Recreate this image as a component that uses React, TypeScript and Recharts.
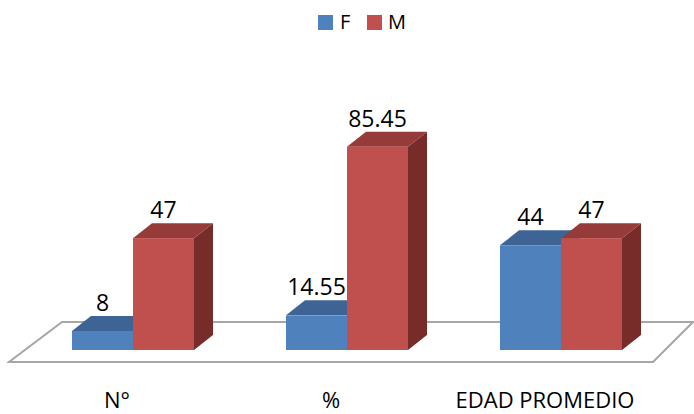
import React from 'react';
import { BarChart, Bar, XAxis, YAxis, Legend, LabelList, ReferenceArea } from 'recharts';

const categories = ['N°', '%', 'EDAD PROMEDIO'];
const femenino = [8, 14.55, 44];
const masculino = [47, 85.45, 47];

const data = categories.map((name, i) => ({ name, F: femenino[i], M: masculino[i] }));

const FONT = '"Open Sans", "Liberation Sans", sans-serif';
const DX = 19; // depth of the 3d bars
const DY = -15;

const colors = {
  F: { front: '#4F81BD', top: '#3D6495', side: '#385D8A' },
  M: { front: '#C0504D', top: '#953B39', side: '#772C2A' },
};

// draws one 3d column: front, top and right side
const make3DBar = (c: { front: string; top: string; side: string }) => (props: any) => {
  const { x, y, width, height } = props;
  if (width == null || height == null) return null;
  const top = `${x},${y} ${x + DX},${y + DY} ${x + width + DX},${y + DY} ${x + width},${y}`;
  const side = `${x + width},${y} ${x + width + DX},${y + DY} ${x + width + DX},${y + height + DY} ${x + width},${y + height}`;
  return (
    <g>
      <polygon points={side} fill={c.side} />
      <polygon points={top} fill={c.top} />
      <rect x={x} y={y} width={width} height={height} fill={c.front} />
    </g>
  );
};

// the floor of the 3d plot, a parallelogram under the bars
const Floor = (props: any) => {
  const { x, y, width, height } = props;
  const base = y + height;
  const pts = `${x - 17},${base + 12} ${x + width - 15},${base + 12} ${x + width + 25},${base - 28} ${x + 36},${base - 28}`;
  return <polygon points={pts} fill="#FFFFFF" stroke="#A6A6A6" strokeWidth={2} />;
};

const ValueLabel = (props: any) => {
  const { x, y, width, value } = props;
  return (
    <text x={x + width / 2} y={y - 20} textAnchor="middle" fontFamily={FONT} fontSize={23} fill="#000">
      {value}
    </text>
  );
};

const CategoryTick = (props: any) => {
  const { x, y, payload } = props;
  return (
    <text x={x - 16} y={y + 50} textAnchor="middle" fontFamily={FONT} fontSize={22} fill="#000">
      {payload.value}
    </text>
  );
};

const LegendContent = () => (
  <div style={{ position: 'relative', height: 40, width: 694, fontFamily: FONT, fontSize: 20, color: '#000' }}>
    <span style={{ position: 'absolute', left: 318, top: 15, width: 15, height: 15, background: colors.F.front }} />
    <span style={{ position: 'absolute', left: 340, top: 8, lineHeight: '28px' }}>F</span>
    <span style={{ position: 'absolute', left: 367, top: 15, width: 15, height: 15, background: colors.M.front }} />
    <span style={{ position: 'absolute', left: 388, top: 8, lineHeight: '28px' }}>M</span>
  </div>
);

export default function App() {
  return (
    <div style={{ position: 'absolute', left: 0, top: 0, width: 694, height: 414, background: '#fff' }}>
      <BarChart
        width={694}
        height={414}
        data={data}
        margin={{ top: 72, right: 26, left: 26, bottom: 0 }}
        barGap={0}
        barCategoryGap={46}
      >
        <ReferenceArea x1="N°" x2="EDAD PROMEDIO" y1={0} y2={100} shape={<Floor />} />
        <XAxis dataKey="name" height={64} axisLine={false} tickLine={false} tick={<CategoryTick />} interval={0} />
        <YAxis hide domain={[0, 100]} />
        <Legend
          verticalAlign="top"
          content={<LegendContent />}
          wrapperStyle={{ left: 0, top: 0, width: 694, height: 40 }}
        />
        <Bar dataKey="F" isAnimationActive={false} shape={make3DBar(colors.F)}>
          <LabelList dataKey="F" content={<ValueLabel />} />
        </Bar>
        <Bar dataKey="M" isAnimationActive={false} shape={make3DBar(colors.M)}>
          <LabelList dataKey="M" content={<ValueLabel />} />
        </Bar>
      </BarChart>
    </div>
  );
}
